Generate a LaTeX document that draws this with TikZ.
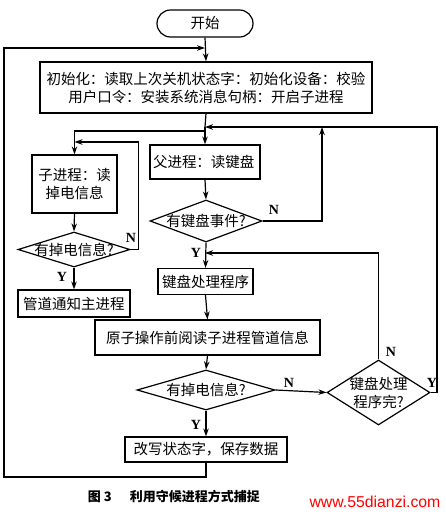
\documentclass[tikz,border=0pt]{standalone}
\usepackage{fontspec}
\newfontfamily\cjk{Noto Sans CJK SC}
\newfontfamily\lat{Liberation Serif}
\newfontfamily\wm{Liberation Sans}
\usetikzlibrary{shapes.geometric,arrows.meta}
\begin{document}
\begin{tikzpicture}[x=1pt,y=-1pt,line width=1.2pt,
  box/.style={draw,rectangle,inner sep=0pt,font=\cjk\fontsize{14.5}{18}\selectfont,align=center},
  dia/.style={draw,diamond,inner sep=0pt},
  dtext/.style={font=\cjk\fontsize{14.5}{18}\selectfont,align=center},
  yn/.style={font=\lat\bfseries\fontsize{14}{16}\selectfont},
  arr/.style={-{Stealth[length=8pt,width=5.5pt]}}]
\useasboundingbox (0,0) rectangle (446,515);
% nodes
\node[box,rounded corners=13.5pt,minimum width=96pt,minimum height=27pt] (start) at (205,23.5) {开始};
\node[box,minimum width=332pt,minimum height=51pt] (init) at (206,87.5) {初始化：读取上次关机状态字：初始化设备：校验\\用户口令：安装系统消息句柄：开启子进程};
\node[box,minimum width=85pt,minimum height=58pt] (child) at (74.5,184) {子进程：读\\掉电信息};
\node[dia,minimum width=112pt,minimum height=35pt] (cd) at (74,249.5) {};
\node[dtext] (cdt) at (cd.center) {有掉电信息?};
\node[box,minimum width=112pt,minimum height=27pt] (pipe) at (74,303.5) {管道通知主进程};
\node[box,minimum width=110pt,minimum height=34pt,text width=104pt,align=left] (parent) at (205,162) {父进程：读键盘};
\node[dia,minimum width=112pt,minimum height=42pt] (pd) at (206,221) {};
\node[dtext] (pdt) at (pd.center) {有键盘事件?};
\node[box,minimum width=95pt,minimum height=26pt] (key) at (205.5,281.5) {键盘处理程序};
\node[box,minimum width=225pt,minimum height=35pt] (atom) at (207.5,337.5) {原子操作前阅读子进程管道信息};
\node[dia,minimum width=138pt,minimum height=40pt] (d3) at (206,390) {};
\node[dtext] (d3t) at (d3.center) {有掉电信息?};
\node[dia,minimum width=103pt,minimum height=65pt] (d4) at (378.5,392.5) {};
\node[dtext] (d4t) at (d4.center) {键盘处理\\程序完?};
\node[box,minimum width=162pt,minimum height=25pt] (save) at (206,449.5) {改写状态字，保存数据};
% coordinates
\coordinate (topj) at (205,48);
\coordinate (j1) at (205,127);
\coordinate (j2) at (205,131);
\coordinate (cj) at (74.5,142);
\coordinate (kj) at (205,253);
\coordinate (lb) at (4,477);
\coordinate (rr) at (437,127);
% connectors
\draw[arr] (start.south) -- (init.north);
\draw (init.south) -- (j1);
\draw[arr] (j1) -- (parent.north);
\draw[arr] (j2) -| (child.north);
\draw[arr] (cd.east) -- ++(8,0) |- (cj);
\draw[arr] (child.south) -- (cd.north);
\draw[arr] (cd.south) -- (pipe.north);
\draw[arr] (parent.south) -- (pd.north);
\draw[arr] (pd.east) -| (322,127);
\draw[arr] (pd.south) -- (key.north);
\draw[arr] (d4.north) |- (kj);
\draw[arr] (key.south) -- (atom.north);
\draw[arr] (atom.south) -- (d3.north);
\draw[arr] (d3.east) -- (d4.west);
\draw[arr] (d3.south) -- (save.north);
\draw[arr] (d4.east) -| (rr) -- (j1);
\draw[arr] (save.south) |- (lb) |- (topj);
% labels
\node[yn] (n1) at (131,238) {N};
\node[yn] (y1) at (62,277) {Y};
\node[yn] (n2) at (274,210) {N};
\node[yn] (y2) at (196,253) {Y};
\node[yn] (n3) at (289,383) {N};
\node[yn] (y3) at (196,425) {Y};
\node[yn] (n4) at (391,352) {N};
\node[yn] (y4) at (432,383) {Y};
% caption
\node[anchor=west,font=\cjk\bfseries\fontsize{13}{15}\selectfont] (cap) at (84,496) {图 3\hspace{18pt}利用守候进程方式捕捉};
\node[font=\wm\fontsize{15.8}{18}\selectfont,text=red] (wmk) at (375,502) {www.55dianzi.com};
\end{tikzpicture}
\end{document}
